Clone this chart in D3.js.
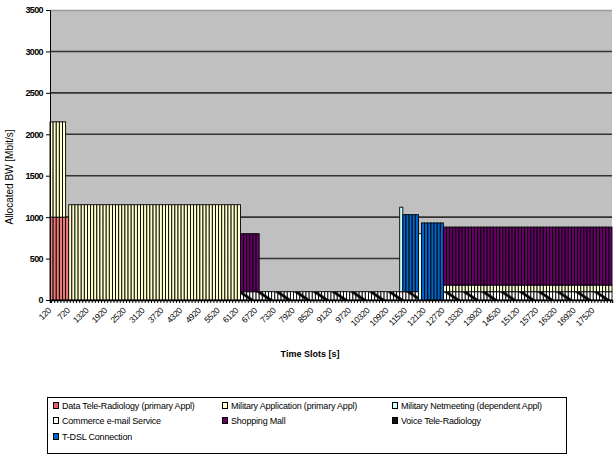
<!DOCTYPE html>
<html>
<head>
<meta charset="utf-8">
<script src="https://cdn.jsdelivr.net/npm/d3@7"></script>
<style>
  html, body { margin: 0; padding: 0; background: #fff; }
  svg { display: block; font-family: "Liberation Sans", Arial, sans-serif; }
</style>
</head>
<body>
<svg id="chart" width="615" height="458"></svg>
<script>
// Time slots in seconds, one column every 100 s
const timeSlots = d3.range(120, 18100, 100);

// Labelled slots on the x axis
const tickLabels = ["120", "720", "1320", "1920", "2520", "3120", "3720", "4320", "4920", "5520",
  "6120", "6720", "7320", "7920", "8520", "9120", "9720", "10320", "10920", "11520",
  "12120", "12720", "13320", "13920", "14520", "15120", "15720", "16320", "16920", "17520"];

const yTicks = [0, 500, 1000, 1500, 2000, 2500, 3000, 3500];

// Allocated bandwidth per application, as runs [first slot, last slot, Mbit/s]
const voiceTeleRadiology = [[6220, 11820, 100], [12720, 18020, 100]];
const dataTeleRadiology = [[120, 620, 1000]];
const militaryApplication = [[120, 520, 1150], [720, 6120, 1150]];
const militaryNetmeeting = [[11320, 11320, 1020], [11920, 11920, 800]];
const commerceEmail = [[12720, 18020, 80]];
const tdslConnection = [[11420, 11820, 930], [12020, 12620, 930]];
const shoppingMall = [[6220, 6720, 700], [12720, 18020, 700]];

const series = [
  { key: "voice", name: "Voice Tele-Radiology", runs: voiceTeleRadiology, fill: "url(#hatch)", legendFill: "#111" },
  { key: "data", name: "Data Tele-Radiology (primary Appl)", runs: dataTeleRadiology, fill: "#F07878", legendFill: "#E06070" },
  { key: "milapp", name: "Military Application (primary Appl)", runs: militaryApplication, fill: "#FFFFCC", legendFill: "#FFFFCC" },
  { key: "netmeet", name: "Military Netmeeting (dependent Appl)", runs: militaryNetmeeting, fill: "#CCFFFF", legendFill: "#CCFFFF" },
  { key: "commerce", name: "Commerce e-mail Service", runs: commerceEmail, fill: "#FFFFD8", legendFill: "#FFFFFF" },
  { key: "tdsl", name: "T-DSL Connection", runs: tdslConnection, fill: "#0066CC", legendFill: "#0066CC" },
  { key: "shop", name: "Shopping Mall", runs: shoppingMall, fill: "#660066", legendFill: "#660066" }
];

// Legend layout order (three columns)
const legendOrder = ["data", "milapp", "netmeet", "commerce", "shop", "voice", "tdsl"];

// Expand runs into one row per slot
const table = timeSlots.map(t => {
  const row = { slot: t };
  series.forEach(s => {
    row[s.key] = 0;
    s.runs.forEach(([a, b, v]) => { if (t >= a && t <= b) row[s.key] = v; });
  });
  return row;
});

const svg = d3.select("#chart");
const plot = { left: 50, right: 612, top: 10, bottom: 300 };

const x = d3.scaleBand().domain(timeSlots).range([plot.left, plot.right]).padding(0);
const y = d3.scaleLinear().domain([0, 3500]).range([plot.bottom, plot.top]);

// Diagonal hatch for the voice service
const defs = svg.append("defs");
const ph = y(0) - y(100);
const pat = defs.append("pattern")
  .attr("id", "hatch")
  .attr("patternUnits", "userSpaceOnUse")
  .attr("x", plot.left).attr("y", y(100))
  .attr("width", x.bandwidth() * 6).attr("height", ph);
pat.append("rect").attr("width", x.bandwidth() * 6).attr("height", ph).attr("fill", "#fff");
pat.append("polygon")
  .attr("points", `0,0 5,0 ${5 + ph * 1.45},${ph} ${ph * 1.45},${ph}`)
  .attr("fill", "#000");

// Plot area
svg.append("rect")
  .attr("x", plot.left).attr("y", plot.top)
  .attr("width", plot.right - plot.left).attr("height", plot.bottom - plot.top)
  .attr("fill", "#C0C0C0");
svg.append("line")
  .attr("x1", plot.left).attr("x2", plot.right)
  .attr("y1", plot.top + 0.5).attr("y2", plot.top + 0.5)
  .attr("stroke", "#9a9a9a").attr("stroke-width", 1.5);

// Gridlines
svg.append("g").selectAll("line")
  .data(yTicks.filter(v => v > 0 && v < 3500))
  .join("line")
  .attr("x1", plot.left).attr("x2", plot.right)
  .attr("y1", d => y(d)).attr("y2", d => y(d))
  .attr("stroke", "#333").attr("stroke-width", 1.6);

// Stacked columns
const stack = d3.stack().keys(series.map(s => s.key));
const layers = stack(table);
svg.append("g").selectAll("g")
  .data(layers)
  .join("g")
  .attr("fill", (d, i) => series[i].fill)
  .selectAll("rect")
  .data(d => d.filter(p => p[1] - p[0] > 0))
  .join("rect")
  .attr("x", p => x(p.data.slot))
  .attr("y", p => y(p[1]))
  .attr("width", x.bandwidth())
  .attr("height", p => y(p[0]) - y(p[1]))
  .attr("stroke", "#000")
  .attr("stroke-width", 0.9);

// Y axis
const yAxis = svg.append("g")
  .attr("transform", `translate(${plot.left},0)`)
  .call(d3.axisLeft(y).tickValues(yTicks).tickFormat(d3.format("d")).tickSize(4).tickPadding(3));
yAxis.select(".domain").attr("stroke", "#000");
yAxis.selectAll("text")
  .attr("font-size", 9).attr("font-weight", "bold")
  .attr("fill", "#000").attr("letter-spacing", -0.6);

// X axis
const labelSet = new Set(tickLabels);
const xAxis = svg.append("g")
  .attr("transform", `translate(0,${plot.bottom})`)
  .call(d3.axisBottom(x).tickSize(3)
    .tickFormat(d => labelSet.has(String(d)) ? String(d) : ""));
xAxis.select(".domain").attr("stroke", "#000").attr("stroke-width", 1.5);
xAxis.selectAll(".tick line").attr("stroke", "#000");
xAxis.selectAll("text")
  .attr("font-size", 8.5)
  .attr("fill", "#000")
  .attr("text-anchor", "end")
  .attr("letter-spacing", -0.3)
  .attr("y", 0).attr("dy", 0)
  .attr("transform", "translate(0,11) rotate(-45)");

// Axis titles
svg.append("text")
  .attr("transform", "translate(13,177) rotate(-90)")
  .attr("text-anchor", "middle")
  .attr("font-size", 10)
  .text("Allocated BW [Mbit/s]");
svg.append("text")
  .attr("x", 310).attr("y", 357)
  .attr("text-anchor", "middle")
  .attr("font-size", 9)
  .attr("font-weight", "bold")
  .text("Time Slots [s]");

// Legend
const legend = svg.append("g");
legend.append("rect")
  .attr("x", 47.5).attr("y", 397.5).attr("width", 519).attr("height", 56)
  .attr("fill", "#fff").attr("stroke", "#000");
const colX = [53, 222, 392];
const rowY = [409, 424, 440];
legendOrder.forEach((k, i) => {
  const s = series.find(d => d.key === k);
  const cx = colX[i % 3], cy = rowY[Math.floor(i / 3)];
  const g = legend.append("g").attr("transform", `translate(${cx},${cy})`);
  g.append("rect").attr("x", 0.5).attr("y", -6.5).attr("width", 5).attr("height", 6)
    .attr("fill", s.legendFill).attr("stroke", "#000");
  g.append("text").attr("x", 9).attr("y", 0)
    .attr("font-size", 9).attr("letter-spacing", -0.2)
    .text(s.name);
});
</script>
</body>
</html>
